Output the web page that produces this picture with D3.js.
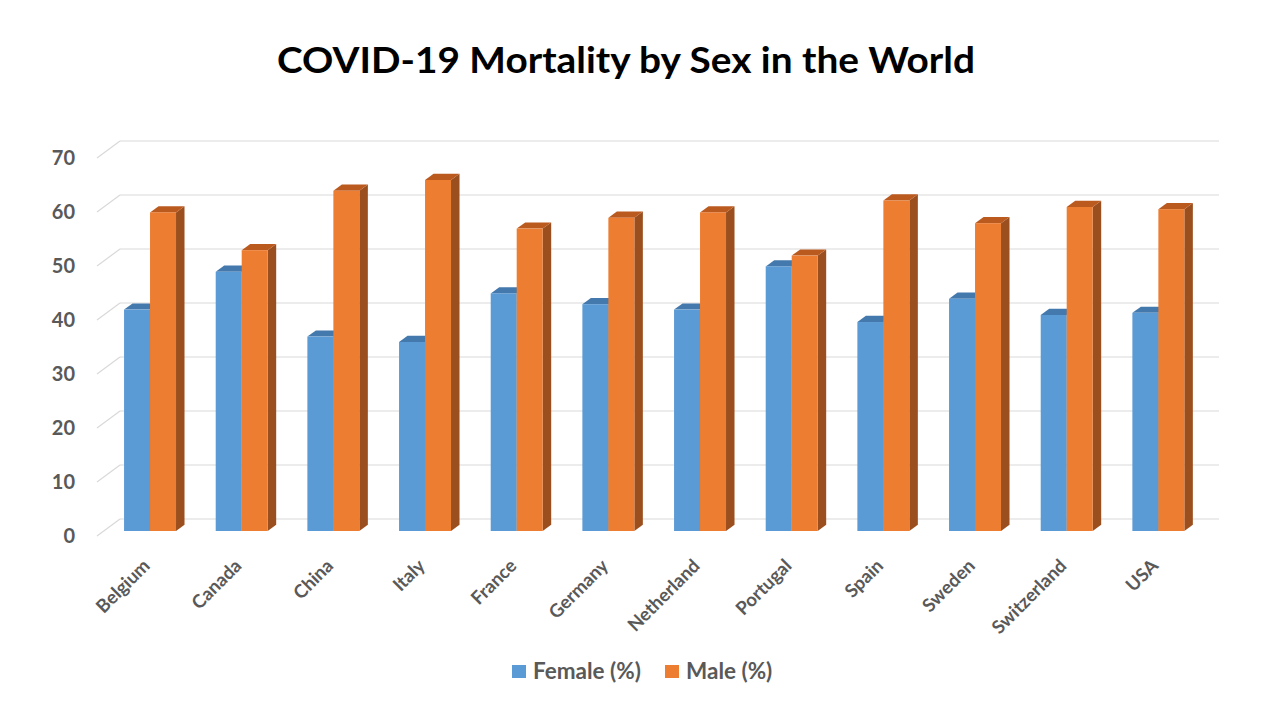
<!DOCTYPE html>
<html>
<head>
  <meta charset="utf-8">
  <style>
    body { margin: 0; background: #fff; }
    text { font-family: Lato, "Open Sans", sans-serif; }
  </style>
</head>
<body>
  <script src="https://cdn.jsdelivr.net/npm/d3@7"></script>
  <script>
    // chart data
    var countries = ["Belgium", "Canada", "China", "Italy", "France", "Germany",
                     "Netherland", "Portugal", "Spain", "Sweden", "Switzerland", "USA"];
    var female = [41, 48, 36, 35, 44, 42, 41, 49, 38.7, 43, 40, 40.4];
    var male = [59, 52, 63, 65, 56, 58, 59, 51, 61.2, 57, 60, 59.6];
    var series = ["Female (%)", "Male (%)"];
    var yTicks = [0, 10, 20, 30, 40, 50, 60, 70];

    var width = 1280, height = 720;
    var colors = {
      "Female (%)": {front: "#5b9bd5", top: "#4479ad", side: "#3f6f9c"},
      "Male (%)": {front: "#ed7d31", top: "#bb5a1f", side: "#9c4f1e"}
    };

    // depth offsets for the fake 3d
    var wallDx = -23, wallDy = 17;   // back wall -> front edge
    var barDx = 8.5, barDy = -6.2;    // bar depth
    var barBase = 12;                 // bar front sits below the back wall baseline

    var svg = d3.select("body").append("svg")
      .attr("width", width)
      .attr("height", height);

    // scales
    var y = d3.scaleLinear().domain([0, 70]).range([519, 141]);
    var x0 = d3.scaleBand().domain(countries).range([104.2, 1204.2])
      .paddingInner(0.433).paddingOuter(0.2165);
    var x1 = d3.scaleBand().domain(series).range([0, x0.bandwidth()]);

    // title
    svg.append("text")
      .attr("x", 626)
      .attr("y", 73)
      .attr("text-anchor", "middle")
      .attr("textLength", 698)
      .attr("lengthAdjust", "spacingAndGlyphs")
      .style("font-size", "36px")
      .style("font-weight", "bold")
      .attr("fill", "#000")
      .text("COVID-19 Mortality by Sex in the World");

    // gridlines: back wall + slanted side
    var grid = svg.append("g").attr("id", "grid");
    grid.selectAll("line.back")
      .data(yTicks)
      .enter().append("line")
      .attr("class", "back")
      .attr("x1", 120).attr("x2", 1219)
      .attr("y1", function(d) { return y(d); })
      .attr("y2", function(d) { return y(d); })
      .attr("stroke", "#d9d9d9").attr("stroke-width", 1.2);
    grid.selectAll("line.side")
      .data(yTicks)
      .enter().append("line")
      .attr("class", "side")
      .attr("x1", 120).attr("x2", 120 + wallDx)
      .attr("y1", function(d) { return y(d); })
      .attr("y2", function(d) { return y(d) + wallDy; })
      .attr("stroke", "#d9d9d9").attr("stroke-width", 1.2);

    // y labels
    svg.append("g").selectAll("text")
      .data(yTicks)
      .enter().append("text")
      .attr("x", 75)
      .attr("y", function(d) { return y(d) + wallDy + 2; })
      .attr("text-anchor", "end")
      .attr("dominant-baseline", "middle")
      .style("font-size", "20px")
      .style("font-weight", "bold")
      .attr("fill", "#595959")
      .text(function(d) { return d; });

    // bars
    var rows = countries.map(function(c, i) {
      return {country: c, values: [
        {key: series[0], value: female[i]},
        {key: series[1], value: male[i]}
      ]};
    });

    var groups = svg.append("g").attr("id", "bars")
      .selectAll("g")
      .data(rows)
      .enter().append("g")
      .attr("transform", function(d) { return "translate(" + x0(d.country) + ",0)"; });

    // female drawn first so the male bar covers its side face
    var bar = groups.selectAll("g")
      .data(function(d) { return d.values; })
      .enter().append("g");

    function pts(a) { return a.map(function(p) { return p.join(","); }).join(" "); }

    bar.each(function(d) {
      var g = d3.select(this);
      var bx = x1(d.key), bw = x1.bandwidth();
      var base = y(0) + barBase;
      var top = y(d.value) + barBase;
      var c = colors[d.key];
      // side
      g.append("polygon")
        .attr("points", pts([[bx + bw, top], [bx + bw + barDx, top + barDy],
                             [bx + bw + barDx, base + barDy], [bx + bw, base]]))
        .attr("fill", c.side);
      // top
      g.append("polygon")
        .attr("points", pts([[bx, top], [bx + bw, top],
                             [bx + bw + barDx, top + barDy], [bx + barDx, top + barDy]]))
        .attr("fill", c.top);
      // front
      g.append("rect")
        .attr("x", bx).attr("y", top)
        .attr("width", bw).attr("height", base - top)
        .attr("fill", c.front);
    });

    // x labels
    svg.append("g").selectAll("text")
      .data(countries)
      .enter().append("text")
      .attr("transform", function(d) {
        var cx = x0(d) + x0.bandwidth() / 2 + 1;
        return "translate(" + cx + ",567) rotate(-45)";
      })
      .attr("text-anchor", "end")
      .style("font-size", "18.5px")
      .style("font-weight", "bold")
      .attr("fill", "#595959")
      .text(function(d) { return d; });

    // legend
    var legendX = [512, 665];
    var legend = svg.append("g").selectAll("g")
      .data(series)
      .enter().append("g")
      .attr("transform", function(d, i) { return "translate(" + legendX[i] + ",665)"; });
    legend.append("rect")
      .attr("width", 14).attr("height", 13)
      .attr("fill", function(d) { return colors[d].front; });
    legend.append("text")
      .attr("x", 21).attr("y", 14)
      .style("font-size", "22.5px")
      .style("font-weight", "bold")
      .attr("fill", "#595959")
      .text(function(d) { return d; });
  </script>
</body>
</html>
